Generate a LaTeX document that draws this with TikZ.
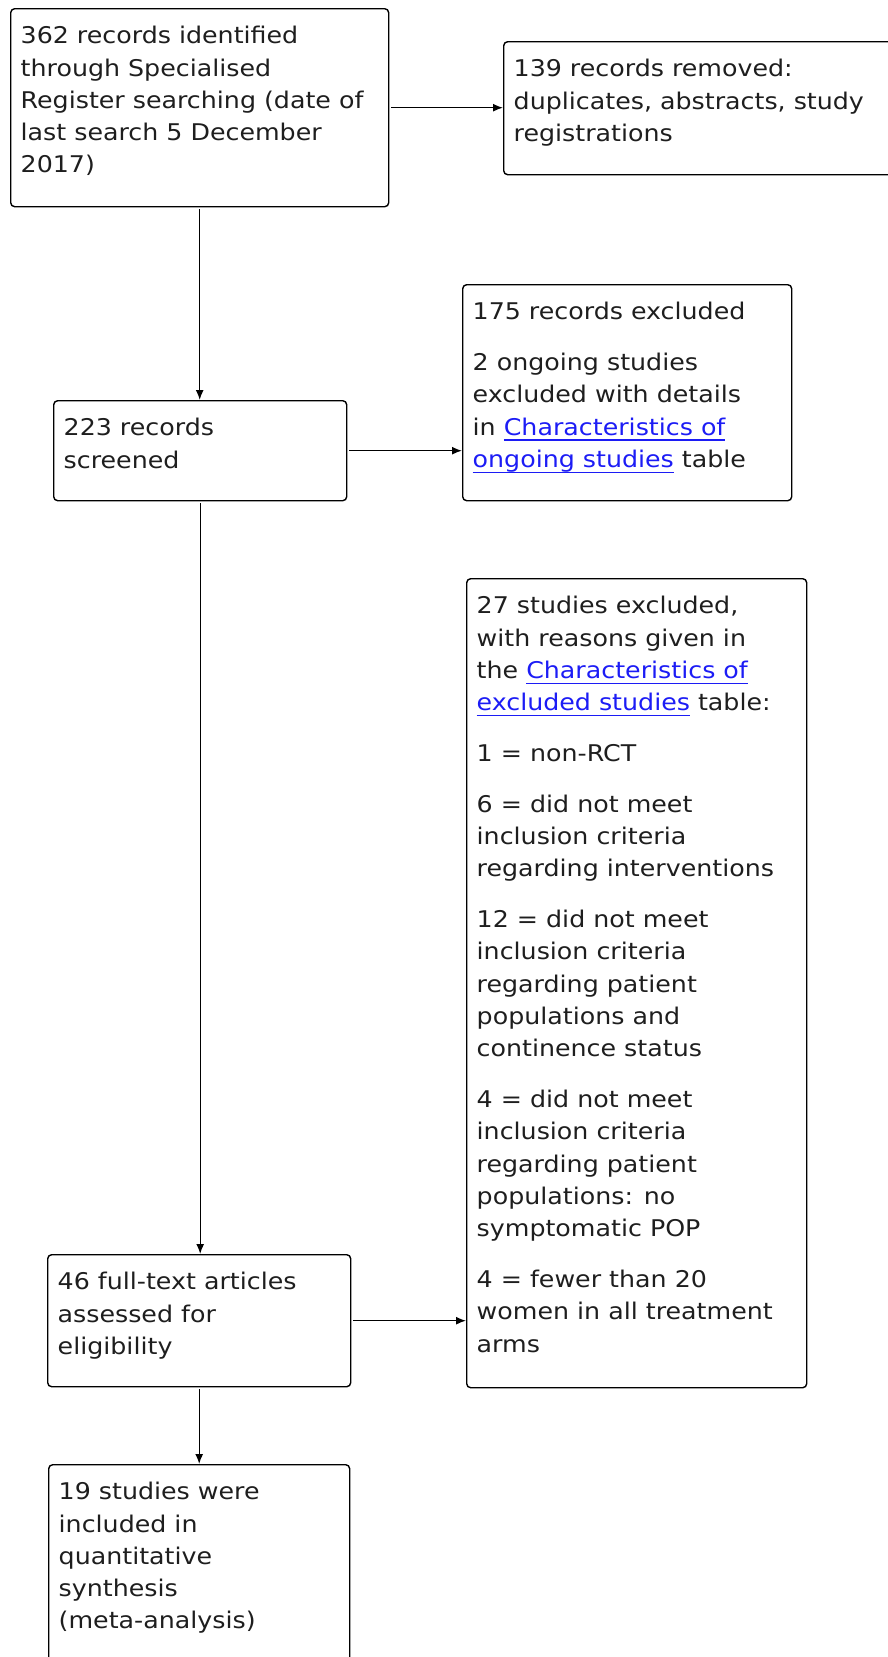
\documentclass[tikz,border=0pt]{standalone}
\usepackage{fontspec}
\setmainfont{DejaVu Sans}[FakeStretch=1.1]
\usetikzlibrary{arrows.meta}
\definecolor{linkblue}{RGB}{28,28,245}
\definecolor{ink}{RGB}{30,30,30}
\newsavebox{\linkbox}
\newcommand{\doclink}[1]{\sbox{\linkbox}{\color{linkblue}#1}{\color{linkblue}\rlap{\rule[-5.5pt]{\wd\linkbox}{1.2pt}}\usebox{\linkbox}}}
\newcommand{\parbreak}{\\[18.5pt]}
\newcommand{\stagetext}[3]{\parbox[c][#2][t]{#1}{\vspace*{12.4pt}\begin{tabular}[t]{@{}l@{}}#3\end{tabular}}}
\tikzset{>={Latex[length=10pt,width=8pt]},
  stage/.style={draw,line width=1.4pt,rounded corners=4pt,anchor=north west,inner xsep=10pt,inner ysep=0pt,text=ink,font=\fontsize{23}{32.3}\selectfont},
  flow/.style={line width=1.4pt,->,shorten <=2pt}}

\begin{document}
\begin{tikzpicture}[x=1pt,y=-1pt]
\useasboundingbox (0,0) rectangle (887,1657);
% boxes, left column
\node[stage] (search) at (10,8) {\stagetext{358pt}{198pt}{362 records identified\\through Specialised\\Register searching (date of\\last search 5 December\\2017)}};
\node[stage] (screened) at (53,400) {\stagetext{273pt}{100pt}{223 records\\screened}};
\node[stage] (fulltext) at (47,1254) {\stagetext{283pt}{132pt}{46 full-text articles\\assessed for\\eligibility}};
\node[stage] (included) at (48,1464) {\stagetext{281pt}{230pt}{19 studies were\\included in\\quantitative\\synthesis\\(meta-analysis)}};
% boxes, right column
\node[stage] (removed) at (503,41) {\stagetext{380pt}{133pt}{139 records removed:\\duplicates, abstracts, study\\registrations}};
\node[stage] (excluded) at (462,284) {\stagetext{309pt}{216pt}{175 records excluded\parbreak 2 ongoing studies\\excluded with details\\in \doclink{Characteristics of}\\\doclink{ongoing studies} table}};
\node[stage] (reasons) at (466,578) {\stagetext{320pt}{809pt}{27 studies excluded,\\with reasons given in\\the \doclink{Characteristics of}\\\doclink{excluded studies} table:\parbreak
1 = non-RCT\parbreak
6 = did not meet\\inclusion criteria\\regarding interventions\parbreak
12 = did not meet\\inclusion criteria\\regarding patient\\populations and\\continence status\parbreak
4 = did not meet\\inclusion criteria\\regarding patient\\populations: no\\symptomatic POP\parbreak
4 = fewer than 20\\women in all treatment\\arms}};
% connectors
\draw[flow] (search.east) -- (search.east -| removed.west);
\draw[flow] (search.south) -- (search.south |- screened.north);
\draw[flow] (screened.east) -- (screened.east -| excluded.west);
\draw[flow] (screened.south) -- (screened.south |- fulltext.north);
\draw[flow] (fulltext.east) -- (fulltext.east -| reasons.west);
\draw[flow] (fulltext.south) -- (fulltext.south |- included.north);
\end{tikzpicture}
\end{document}
